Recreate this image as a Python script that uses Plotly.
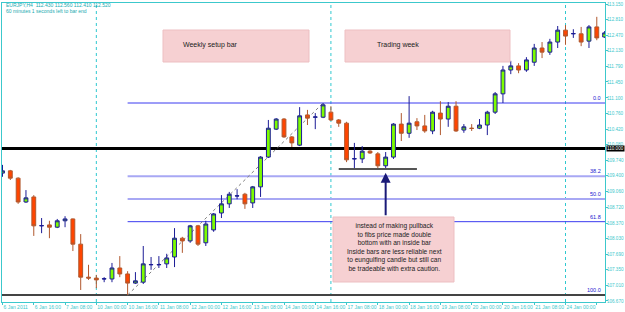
import plotly.graph_objects as go

# ---------------- data ----------------
x_tick_labels = ["6 Jan 2011", "6 Jan 16:00", "7 Jan 08:00", "10 Jan 00:00", "10 Jan 16:00",
                 "11 Jan 08:00", "12 Jan 00:00", "12 Jan 16:00", "13 Jan 08:00", "14 Jan 00:00",
                 "14 Jan 16:00", "17 Jan 08:00", "18 Jan 00:00", "18 Jan 16:00", "19 Jan 08:00",
                 "20 Jan 00:00", "20 Jan 16:00", "21 Jan 08:00", "24 Jan 00:00", "24 Jan 16:00"]
bars_per_label = 4
week_start_bars = [12, 42, 72]

y_tick_labels = ["113.150", "112.810", "112.470", "112.130", "111.790", "111.450", "111.100",
                 "110.760", "110.420", "110.080", "109.740", "109.400", "109.060", "108.720",
                 "108.370", "108.030", "107.690", "107.350", "107.010", "106.670"]

opens = [109.46, 109.51, 109.35, 108.83, 108.94, 108.31, 108.33, 108.28, 108.42, 108.46,
         107.91, 107.19, 107.17, 107.15, 107.15, 107.39, 107.26, 107.06, 107.08, 107.46,
         107.46, 107.48, 107.63, 108.04, 107.98, 108.31, 107.94, 108.22, 108.59, 108.79,
         108.96, 109.00, 108.81, 109.16, 109.81, 110.42, 110.64, 110.25, 110.07, 110.73,
         110.68, 110.68, 110.79, 110.62, 110.55, 109.77, 109.77, 109.94, 109.88, 109.62,
         109.81, 110.53, 110.33, 110.58, 110.49, 110.38, 110.77, 110.64, 110.92, 110.40,
         110.44, 110.44, 110.51, 110.79, 111.19, 111.71, 111.80, 111.71, 111.88, 112.19,
         112.10, 112.32, 112.58, 112.50, 112.50, 112.34, 112.65, 112.43]
highs = [109.64, 109.53, 109.37, 109.09, 108.98, 108.48, 108.42, 108.46, 108.52, 108.47,
         108.13, 107.46, 107.24, 107.19, 107.50, 107.65, 107.32, 107.30, 107.87, 107.63,
         107.65, 107.70, 108.26, 108.07, 108.33, 108.33, 108.42, 108.59, 108.98, 109.05,
         109.11, 109.03, 109.18, 109.83, 110.62, 110.66, 110.66, 110.27, 110.90, 110.84,
         110.77, 110.99, 110.92, 110.64, 110.58, 110.12, 110.05, 109.96, 109.92, 109.92,
         110.55, 110.77, 111.14, 110.66, 110.73, 110.82, 111.03, 111.01, 111.03, 110.53,
         110.53, 110.64, 110.82, 111.23, 111.80, 111.91, 111.86, 111.99, 112.28, 112.32,
         112.39, 112.67, 112.69, 112.60, 112.65, 112.69, 112.87, 112.56]
lows = [109.38, 109.31, 108.79, 108.81, 108.09, 108.15, 108.04, 108.26, 108.28, 107.76,
        106.91, 107.13, 106.95, 107.08, 107.08, 107.19, 106.80, 107.04, 107.04, 107.35,
        107.39, 107.39, 107.41, 107.72, 107.94, 107.87, 107.87, 108.18, 108.48, 108.70,
        108.89, 108.68, 108.70, 108.94, 109.79, 110.40, 110.23, 110.03, 110.05, 110.51,
        110.42, 110.66, 110.60, 110.47, 109.70, 109.57, 109.68, 109.88, 109.57, 109.57,
        109.77, 110.16, 110.23, 110.40, 110.34, 110.31, 110.29, 110.47, 110.36, 110.34,
        110.38, 110.42, 110.29, 110.75, 110.99, 111.62, 111.64, 111.67, 111.80, 111.97,
        112.04, 112.19, 112.26, 112.41, 112.23, 112.19, 112.36, 112.41]
closes = [109.51, 109.35, 108.83, 108.92, 108.31, 108.315, 108.28, 108.42, 108.46, 107.91,
          107.19, 107.17, 107.13, 107.155, 107.39, 107.26, 107.06, 107.11, 107.48, 107.465,
          107.465, 107.61, 108.04, 107.98, 108.31, 107.91, 108.35, 108.57, 108.79, 109.00,
          108.965, 108.79, 109.16, 109.81, 110.44, 110.64, 110.25, 110.12, 110.71, 110.66,
          110.685, 110.95, 110.62, 110.55, 109.75, 109.775, 109.94, 109.90, 109.62, 109.81,
          110.53, 110.33, 110.55, 110.49, 110.38, 110.79, 110.64, 110.92, 110.38, 110.47,
          110.435, 110.51, 110.79, 111.19, 111.71, 111.80, 111.71, 111.93, 112.19, 112.10,
          112.32, 112.58, 112.45, 112.505, 112.32, 112.65, 112.41, 112.52]

fib_low_bar = 16
fib_high_bar = 41
fib_ratios = [0.0, 38.2, 50.0, 61.8, 100.0]
round_level = 110.000
support_level = 109.55
support_bars = [43, 53]
arrow_bar = 49
arrow_tip_price = 109.47

header_line1 = "EURJPY,H4  112.430 112.560 112.410 112.520"
header_line2 = "60 minutes 1 seconds left to bar end"
box_texts = ["Weekly setup bar", "Trading week"]
note_text = ("instead of making pullback<br>to fibs price made double<br>bottom with an inside bar<br>"
             "Inside bars are less reliable next<br>to eungulfing candle but still can<br>"
             "be tradeable with extra caution.")

# ---------------- styling ----------------
W, H = 625, 312
ML, MR, MT, MB = 2, 20, 3, 10
X_RANGE = [-0.064, 77.05]
Y_RANGE = [106.648, 113.172]
AXIS_C = "#3CC8CC"
BULL_FILL, BULL_LINE = "#7CFC00", "#1C1C96"
BEAR_FILL, BEAR_LINE = "#FF4500", "#B0582E"
FONT = "Arial, Liberation Sans, sans-serif"

PW, PH = W - ML - MR, H - MT - MB


def px(xp):
    return (xp - ML) / PW


def py(yp):
    return (H - MB - yp) / PH


idx = list(range(len(opens)))

fig = go.Figure()
fig.add_trace(go.Candlestick(
    x=idx, open=opens, high=highs, low=lows, close=closes,
    increasing=dict(line=dict(color=BULL_LINE, width=1), fillcolor=BULL_FILL),
    decreasing=dict(line=dict(color=BEAR_LINE, width=1), fillcolor=BEAR_FILL),
    whiskerwidth=0, showlegend=False,
))

shapes = []
# week separators
for b in week_start_bars:
    shapes.append(dict(type="line", xref="x", yref="paper", x0=b, x1=b, y0=0, y1=1,
                       line=dict(color="#30C8D0", width=1, dash="dot"), layer="below"))

f_low = lows[fib_low_bar]
f_high = highs[fib_high_bar]
fib_styles = {0.0: ("#3A3AF0", 1), 38.2: ("#A8A8F4", 2), 50.0: ("#A8A8F4", 2),
              61.8: ("#3A3AF0", 1)}
annotations = []
for r in fib_ratios:
    lvl = f_high - r / 100.0 * (f_high - f_low)
    if r == 100.0:
        shapes.append(dict(type="line", xref="paper", yref="y", x0=0, x1=1, y0=lvl, y1=lvl,
                           line=dict(color="#444444", width=2), layer="below"))
    else:
        c, w = fib_styles[r]
        shapes.append(dict(type="line", xref="x", yref="y", x0=fib_low_bar, x1=X_RANGE[1],
                           y0=lvl, y1=lvl, line=dict(color=c, width=w), layer="below"))
    annotations.append(dict(xref="paper", yref="y", x=0.997, y=lvl, xanchor="right",
                            yanchor="bottom", text=f"{r:.1f}", showarrow=False,
                            font=dict(size=5.5, color="#2020D0", family=FONT)))

# fib diagonal
shapes.append(dict(type="line", xref="x", yref="y", x0=fib_low_bar, y0=f_low,
                   x1=fib_high_bar, y1=f_high, line=dict(color="#808080", width=1, dash="dot"),
                   layer="below"))
# 110.000 line
shapes.append(dict(type="line", xref="paper", yref="y", x0=0, x1=1, y0=round_level,
                   y1=round_level, line=dict(color="#000000", width=3), layer="below"))
# support line
shapes.append(dict(type="line", xref="x", yref="y", x0=support_bars[0], x1=support_bars[1],
                   y0=support_level, y1=support_level, line=dict(color="#555555", width=2),
                   layer="below"))

# pink boxes
PINK, PINK_EDGE = "#F6D0D2", "#EDBFC2"
for (x0, x1, y0, y1) in [(163, 309, 30, 62), (345, 510, 30, 62), (333, 454, 217, 282)]:
    shapes.append(dict(type="rect", xref="paper", yref="paper", x0=px(x0), x1=px(x1),
                       y0=py(y1), y1=py(y0), fillcolor=PINK, line=dict(color=PINK_EDGE, width=1),
                       layer="above"))

annotations += [
    dict(xref="paper", yref="paper", x=px(210), y=py(45), xanchor="center", yanchor="middle",
         text=box_texts[0], showarrow=False, font=dict(size=7, color="#222222", family=FONT)),
    dict(xref="paper", yref="paper", x=px(398), y=py(45), xanchor="center", yanchor="middle",
         text=box_texts[1], showarrow=False, font=dict(size=7, color="#222222", family=FONT)),
    dict(xref="paper", yref="paper", x=px(394), y=py(247), xanchor="center", yanchor="middle",
         text=note_text, showarrow=False, align="center",
         font=dict(size=6.6, color="#222222", family=FONT)),
    dict(xref="x", yref="y", x=arrow_bar, y=arrow_tip_price, ax=0, ay=44, text="",
         showarrow=True, arrowhead=2, arrowsize=1, arrowwidth=2, arrowcolor="#1A1A78"),
    dict(xref="paper", yref="paper", x=0.003, y=py(5.5), xanchor="left", yanchor="middle",
         text=header_line1, showarrow=False, font=dict(size=5, color="#1AAAB0", family=FONT)),
    dict(xref="paper", yref="paper", x=0.003, y=py(11.5), xanchor="left", yanchor="middle",
         text=header_line2, showarrow=False, font=dict(size=5, color="#1AAAB0", family=FONT)),
    dict(xref="paper", yref="y", x=1.0, y=round_level, xanchor="left", yanchor="top",
         xshift=1, yshift=3, text=f"{round_level:.3f}", showarrow=False, bgcolor="#000000",
         borderpad=0, font=dict(size=4.6, color="#FFFFFF", family=FONT)),
]

fig.update_layout(
    width=W, height=H, autosize=False,
    margin=dict(l=ML, r=MR, t=MT, b=MB, pad=0, autoexpand=False),
    paper_bgcolor="white", plot_bgcolor="white",
    showlegend=False, boxgap=0.3,
    shapes=shapes, annotations=annotations,
    font=dict(family=FONT),
    xaxis=dict(range=X_RANGE, rangeslider=dict(visible=False), showgrid=False, zeroline=False,
               automargin=False, tickangle=0,
               tickmode="array", tickvals=list(range(0, len(opens), bars_per_label))[:len(x_tick_labels)],
               ticktext=x_tick_labels, ticks="outside", ticklen=2, tickcolor=AXIS_C,
               ticklabelposition="outside right",
               tickfont=dict(size=5, color=AXIS_C, family=FONT),
               showline=True, linecolor=AXIS_C, linewidth=1, mirror=True),
    yaxis=dict(range=Y_RANGE, side="right", showgrid=False, zeroline=False, automargin=False,
               tickmode="array", tickvals=[float(t) for t in y_tick_labels], ticktext=y_tick_labels,
               ticks="outside", ticklen=2, tickcolor=AXIS_C, ticklabelstandoff=-2,
               tickfont=dict(size=4.6, color=AXIS_C, family=FONT),
               showline=True, linecolor=AXIS_C, linewidth=1, mirror=True),
)

fig.write_html("out.html")
